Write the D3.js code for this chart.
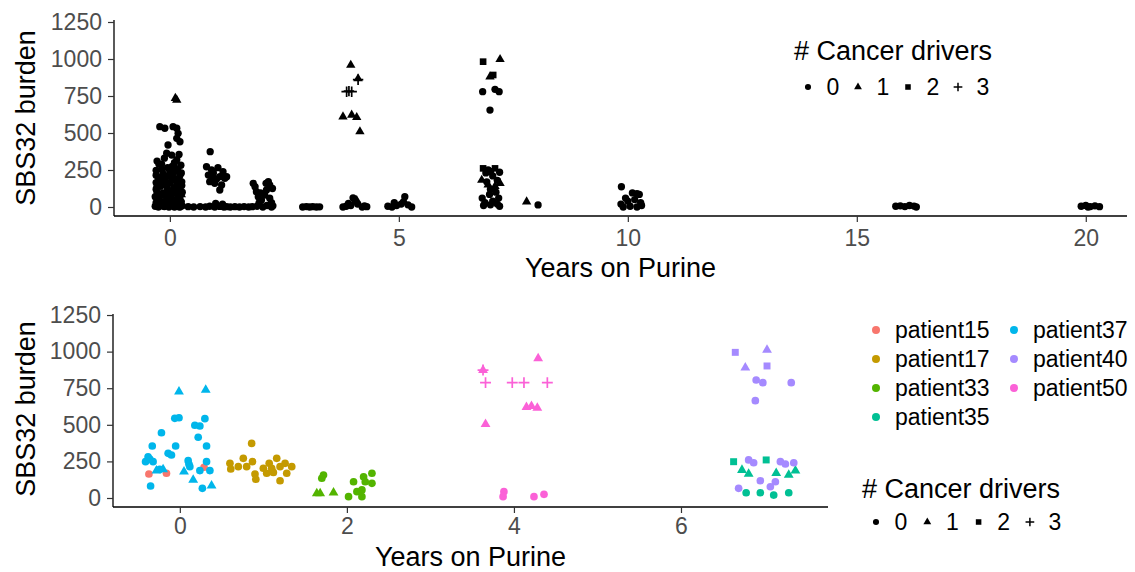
<!DOCTYPE html>
<html>
<head>
<meta charset="utf-8">
<script src="https://cdn.jsdelivr.net/npm/d3@7"></script>
<style>
  body { margin: 0; background: #fff; }
  text { font-family: "Liberation Sans", Arial, Helvetica, sans-serif; }
</style>
</head>
<body>
<svg id="chart" width="1135" height="572"></svg>
<script>
// ---- Top panel: all samples, [years on purine (jittered), SBS32 burden, # cancer drivers]
const year0 = [
  [0.15,723,1],[0.12,735,1],[-0.25,187,1],[0.05,180,1],[0.20,123,1],[0.25,84,1],
  [-0.22,543,0],[-0.11,532,0],[0.07,543,0],[0.15,532,0],[0.18,498,0],[0.22,441,0],[0.15,464,0],
  [-0.04,419,0],[-0.07,363,0],[0.04,351,0],[0.20,355,0],[-0.28,310,0],[0.10,300,0],[-0.18,290,0],
  [0.24,282,0],[-0.05,265,0],[0.17,250,0],[-0.30,248,0],[0.00,240,0],[-0.15,225,0],[0.22,214,0],
  [-0.25,200,0],[0.08,190,0],[-0.10,185,0],[0.26,170,0],[-0.30,165,0],[0.00,160,0],[0.15,150,0],
  [-0.20,140,0],[0.10,130,0],[-0.05,120,0],[0.22,110,0],[-0.28,100,0],[0.05,90,0],[-0.15,82,0],
  [0.18,70,0],[-0.25,66,0],[0.00,60,0],[0.12,50,0],[-0.10,40,0],[0.25,35,0],[-0.30,30,0],
  [-0.05,25,0],[0.15,20,0],[-0.20,15,0],[0.05,10,0],[0.27,8,0],[-0.32,5,0],[-0.12,3,0],
  [0.20,2,0],[0.10,0,0],[-0.25,0,0],[-0.02,0,0],[0.22,0,0],[-0.15,6,0],[0.08,12,0],
  [-0.30,215,0],[-0.18,255,0],[0.05,275,0],[0.25,230,0],[-0.12,330,0],[0.15,320,0],[-0.24,290,0],
  [0.02,205,0],[0.20,195,0],[-0.08,150,0],[0.26,145,0],[-0.30,120,0],[0.12,105,0],[-0.15,95,0],
  [0.22,60,0],[-0.22,45,0],[0.05,35,0],[-0.05,75,0],[0.18,40,0],[-0.32,70,0],[0.08,230,0],
  [-0.18,175,0],[0.14,175,0],[-0.02,110,0],[0.27,100,0],[-0.28,140,0],[0.10,265,0],[-0.10,210,0]
];
const year1 = [
  [0.88,374,0],[0.80,272,0],[0.91,250,0],[1.05,266,0],[1.16,239,0],[0.84,216,0],[1.09,205,0],
  [1.20,194,0],[0.87,171,0],[0.98,160,0],[1.13,149,0],[1.24,205,0],[1.09,115,0],[0.95,230,0],
  [1.02,190,0],[0.92,200,0],[0.40,2,0],[0.52,0,0],[0.66,3,0],[0.78,0,0],[0.87,5,0],[0.98,0,0],
  [1.09,4,0],[1.18,0,0],[1.24,2,0],[1.00,25,0],[1.15,20,0]
];
const year2 = [
  [1.82,160,0],[1.86,137,0],[1.89,103,0],[1.93,70,0],[2.15,171,0],[2.18,149,0],[2.11,115,0],
  [2.07,81,0],[2.18,59,0],[2.00,47,0],[2.22,30,0],[1.95,30,0],[1.32,0,0],[1.42,2,0],[1.52,0,0],
  [1.62,3,0],[1.72,0,0],[1.80,2,0],[1.90,5,0],[2.03,0,0],[2.12,10,0],[2.22,0,0],[2.25,8,0],
  [2.24,125,0],[1.98,95,0],[2.10,160,0]
];
const year3 = [[2.90,0,0],[2.98,3,0],[3.05,0,0],[3.12,2,0],[3.20,0,0],[3.27,1,0]];
const year4 = [
  [3.95,959,1],[4.11,868,1],[3.78,610,1],[3.97,622,1],[4.08,606,1],[4.15,509,1],
  [4.11,860,3],[3.86,779,3],[3.97,779,3],[3.91,783,3],
  [3.78,0,0],[3.85,5,0],[3.95,10,0],[4.00,62,0],[4.05,40,0],[4.10,20,0],[4.20,0,0],
  [4.25,8,0],[4.30,2,0],[3.90,25,0],[4.08,45,1]
];
const year5 = [[4.76,5,0],[4.85,0,0],[4.95,10,0],[5.05,20,0],[5.13,70,0],[5.20,15,0],[5.28,0,0],[4.90,30,0],[5.10,35,0]];
const year7 = [
  [6.84,982,2],[7.06,892,2],[6.84,261,2],[7.10,261,2],
  [7.21,998,1],[6.99,880,1],[6.81,182,1],[7.21,160,1],[6.95,150,1],[7.10,140,1],
  [6.83,779,0],[7.10,795,0],[7.19,779,0],[6.99,655,0],[6.95,250,0],[7.00,240,0],[6.90,230,0],
  [7.20,235,0],[7.05,210,0],[6.92,170,0],[7.15,180,0],[7.00,120,0],[7.12,100,0],[6.98,85,0],
  [7.18,60,0],[6.82,60,0],[6.88,30,0],[7.15,20,0],[7.00,15,0],[6.85,10,0],[7.20,5,0],[7.05,40,0]
];
const year8 = [[7.79,36,1],[8.04,14,0]];
const year10 = [
  [9.86,137,0],[10.10,95,0],[10.20,90,0],[10.25,85,0],[9.95,60,0],[10.00,40,0],[10.15,50,0],
  [9.85,20,0],[10.30,10,0],[9.90,0,0],[10.05,5,0],[10.20,0,0],[10.28,30,0]
];
const year16 = [[15.85,5,0],[15.95,8,0],[16.05,3,0],[16.15,10,0],[16.25,6,0],[16.30,0,0]];
const year20 = [[19.90,5,0],[20.00,10,0],[20.10,3,0],[20.20,8,0],[20.30,2,0],[20.05,0,0]];

// ---- Bottom panel: selected patients, [years (jittered), SBS32 burden, # cancer drivers]
const patient15 = [[-0.37,164,0],[-0.16,169,0],[0.29,210,0]];
const patient17 = [
  [0.86,373,0],[0.60,237,0],[0.61,198,0],[0.70,214,0],[0.76,271,0],[0.80,214,0],[0.87,248,0],
  [0.90,164,0],[0.91,128,0],[1.00,203,0],[1.04,169,0],[1.07,237,0],[1.10,203,0],[1.16,271,0],
  [1.20,214,0],[1.20,118,0],[1.26,237,0],[1.28,169,0],[1.34,214,0],[1.12,175,0]
];
const patient33 = [
  [1.64,32,1],[1.68,32,1],[1.84,36,1],[1.70,135,0],[1.72,157,0],[2.02,9,0],[2.08,111,0],
  [2.12,43,0],[2.18,9,0],[2.20,145,0],[2.22,111,0],[2.30,169,0],[2.30,100,0],[2.18,55,0]
];
const patient35 = [
  [6.63,248,2],[7.02,260,2],[6.73,191,1],[6.81,164,1],[7.14,169,1],[7.29,157,1],[7.37,187,1],
  [6.78,36,0],[6.95,36,0],[7.11,20,0],[7.29,36,0]
];
const patient37 = [
  [-0.01,726,1],[0.31,738,1],[-0.06,544,0],[-0.01,548,0],[0.18,497,0],[0.24,492,0],[0.30,542,0],
  [-0.22,446,0],[0.22,415,0],[-0.33,355,0],[-0.05,355,0],[0.32,355,0],[-0.14,305,0],[-0.10,294,0],
  [-0.38,282,0],[-0.41,248,0],[-0.32,248,0],[0.10,255,0],[0.12,214,0],[0.32,248,0],[-0.28,187,1],
  [-0.20,196,1],[-0.24,195,0],[0.05,180,1],[0.24,187,0],[0.36,187,0],[0.16,123,1],[-0.35,82,0],
  [0.27,66,0],[0.38,84,1],[0.11,230,0],[-0.36,265,0]
];
const patient40 = [
  [6.65,995,2],[7.03,1011,1],[6.77,890,1],[7.03,902,2],[6.90,806,0],[6.98,788,0],[7.32,788,0],
  [6.89,665,0],[6.81,260,0],[6.87,241,0],[7.19,248,0],[7.25,232,0],[7.35,241,0],[6.95,118,0],
  [7.07,77,0],[7.13,111,0],[6.69,66,0]
];
const patient50 = [
  [4.29,954,1],[3.63,874,1],[3.63,874,3],[3.66,788,3],[3.98,788,3],[4.12,788,3],[4.40,788,3],
  [4.15,620,1],[4.21,628,1],[4.28,615,1],[3.66,505,1],[3.88,43,0],[3.87,9,0],[4.24,9,0],[4.36,25,0]
];

const patientNames = ["patient15","patient17","patient33","patient35","patient37","patient40","patient50"];
const patientColors = ["#F8766D","#C49A00","#53B400","#00C094","#00B6EB","#A58AFF","#FB61D7"];
const driverLevels = ["0","1","2","3"];
const yTicks = [0,250,500,750,1000,1250];
const xTicksTop = [0,5,10,15,20];
const xTicksBottom = [0,2,4,6];

const svg = d3.select("#chart");

// shape per number of drivers: circle, triangle, square, plus
function shapePath(drivers, scale) {
  const s = scale || 1;
  if (drivers === 0) return d3.symbol().type(d3.symbolCircle).size(42 * s)();
  if (drivers === 1) return d3.symbol().type(d3.symbolTriangle).size(38 * s)();
  if (drivers === 2) return d3.symbol().type(d3.symbolSquare).size(44 * s)();
  const a = 5.2 * Math.sqrt(s);
  return `M${-a},0H${a}M0,${-a}V${a}`;
}
function drawMark(g, d, x, y, color, scale) {
  const p = g.append("path")
    .attr("transform", `translate(${x(d[0])},${y(d[1])})`)
    .attr("d", shapePath(d[2], scale));
  if (d[2] === 3) p.attr("fill", "none").attr("stroke", color).attr("stroke-width", 1.7);
  else p.attr("fill", color);
}

function drawAxes(x, y, xTicks, yTitleY, xTitleY, xPad) {
  const [x0, x1] = x.range();
  const [yb, yt] = y.range();
  const gx = svg.append("g").attr("transform", `translate(0,${yb})`)
    .call(d3.axisBottom(x).tickValues(xTicks).tickSize(6).tickPadding(xPad).tickFormat(d3.format("d")));
  const gy = svg.append("g").attr("transform", `translate(${x0},0)`)
    .call(d3.axisLeft(y).tickValues(yTicks).tickSize(6).tickPadding(6).tickFormat(d3.format("d")));
  [gx, gy].forEach(g => {
    g.select(".domain").attr("stroke", "#000").attr("stroke-width", 1.3);
    g.selectAll(".tick line").attr("stroke", "#333").attr("stroke-width", 1.2);
    g.selectAll(".tick text").attr("fill", "#4D4D4D").style("font-size", "23px");
  });
  gx.select(".domain").attr("d", `M${x0},0H${x1}`);
  gy.select(".domain").attr("d", `M0,${yb}V${yt}`);
  svg.append("text").attr("x", (x0 + x1) / 2).attr("y", xTitleY)
    .attr("text-anchor", "middle").style("font-size", "27px").attr("fill", "#000")
    .text("Years on Purine");
  svg.append("text").attr("transform", `translate(35,${yTitleY}) rotate(-90)`)
    .attr("text-anchor", "middle").style("font-size", "27px").attr("fill", "#000")
    .text("SBS32 burden");
}

function drawShapeLegend(xStart, titleBaseline, keysY, step) {
  svg.append("text").attr("x", xStart).attr("y", titleBaseline)
    .style("font-size", "27px").attr("fill", "#000").text("# Cancer drivers");
  driverLevels.forEach((lab, i) => {
    const sx = xStart + 14 + i * step;
    const p = svg.append("path").attr("transform", `translate(${sx},${keysY})`)
      .attr("d", shapePath(i, 0.7));
    if (i === 3) p.attr("fill", "none").attr("stroke", "#000").attr("stroke-width", 1.5);
    else p.attr("fill", "#000");
    svg.append("text").attr("x", sx + 25).attr("y", keysY + 8).attr("text-anchor", "middle")
      .style("font-size", "23px").attr("fill", "#000").text(lab);
  });
}

// ---- Top panel
const xTop = d3.scaleLinear().domain([-1.22, 20.9]).range([114, 1127]);
const yTop = d3.scaleLinear().domain([-60.8, 1263.5]).range([216, 20]);
drawAxes(xTop, yTop, xTicksTop, 118, 277, 8);
const gTop = svg.append("g");
[year0, year1, year2, year3, year4, year5, year7, year8, year10, year16, year20].forEach(arr =>
  arr.forEach(d => drawMark(gTop, d, xTop, yTop, "#000", 1)));
drawShapeLegend(794, 60, 87, 50);

// ---- Bottom panel
const xBot = d3.scaleLinear().domain([-0.8, 7.76]).range([113, 828]);
const yBot = d3.scaleLinear().domain([-61.5, 1257]).range([507, 314]);
drawAxes(xBot, yBot, xTicksBottom, 409, 566, 5);
const colour = d3.scaleOrdinal().domain(patientNames).range(patientColors);
const gBot = svg.append("g");
[["patient15",patient15],["patient17",patient17],["patient33",patient33],["patient35",patient35],
 ["patient37",patient37],["patient40",patient40],["patient50",patient50]].forEach(([name, arr]) =>
  arr.forEach(d => drawMark(gBot, d, xBot, yBot, colour(name), 1.1)));

// colour legend (two columns)
patientNames.forEach((name, i) => {
  const col = i < 4 ? 0 : 1;
  const row = i < 4 ? i : i - 4;
  const cx = col === 0 ? 876 : 1014;
  const cy = 330 + row * 29;
  svg.append("circle").attr("cx", cx).attr("cy", cy).attr("r", 4).attr("fill", colour(name));
  svg.append("text").attr("x", cx + 19).attr("y", cy + 8).style("font-size", "23px")
    .attr("fill", "#000").text(name);
});
drawShapeLegend(862, 498, 522, 51.3);
</script>
</body>
</html>
